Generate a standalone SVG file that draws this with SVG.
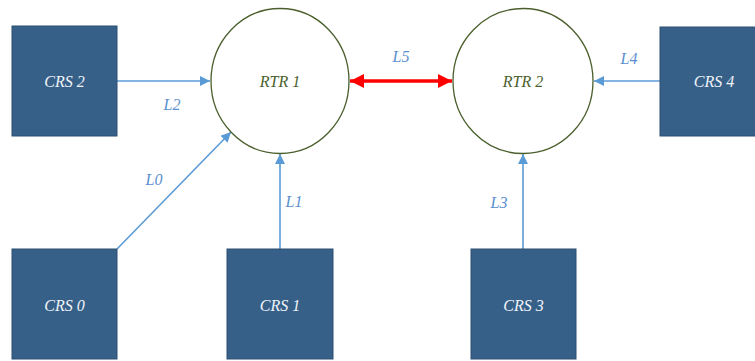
<svg xmlns="http://www.w3.org/2000/svg" width="755" height="361" viewBox="0 0 755 361">
<style>
text{font-family:'Liberation Serif','Times New Roman','DejaVu Serif',serif;font-style:italic;font-size:16px;text-anchor:middle}
.crs{fill:#376089;stroke:#2c4f72;stroke-width:1}
.crst{fill:#f0f4f8}
.rtr{fill:#fff;stroke:#4a5f2c;stroke-width:1.3}
.rtrt{fill:#4a5f2c}
.lnk{stroke:#5b9bd5;stroke-width:1.6;fill:none}
.lbl{fill:#5b8fcf}
</style>
<defs>
<marker id="ab" viewBox="0 0 10 10" refX="10" refY="5" markerWidth="10" markerHeight="10" markerUnits="userSpaceOnUse" orient="auto"><path d="M0,0L10,5L0,10z" fill="#5b9bd5"/></marker>
<marker id="ar" viewBox="0 0 10 10" refX="10" refY="5" markerWidth="16" markerHeight="14" markerUnits="userSpaceOnUse" orient="auto-start-reverse"><path d="M0,0L10,5L0,10z" fill="#ff0000"/></marker>
</defs>
<g id="connectors">
<line class="lnk" x1="117" y1="81" x2="210" y2="81" marker-end="url(#ab)"/>
<line class="lnk" x1="117" y1="249" x2="231" y2="132" marker-end="url(#ab)"/>
<line class="lnk" x1="280" y1="249" x2="280" y2="154" marker-end="url(#ab)"/>
<line class="lnk" x1="523" y1="249" x2="523" y2="154" marker-end="url(#ab)"/>
<line class="lnk" x1="660" y1="81" x2="594" y2="81" marker-end="url(#ab)"/>
<line x1="350" y1="81" x2="452" y2="81" stroke="#ff0000" stroke-width="3.5" marker-start="url(#ar)" marker-end="url(#ar)"/>
<text class="lbl" x="172" y="110">L2</text>
<text class="lbl" x="154" y="185">L0</text>
<text class="lbl" x="294" y="207">L1</text>
<text class="lbl" x="499" y="208">L3</text>
<text class="lbl" x="629" y="64">L4</text>
<text class="lbl" x="401" y="62">L5</text>
</g>
<g id="rtr1"><ellipse class="rtr" cx="280" cy="81" rx="69" ry="72.5"/><text class="rtrt" x="280" y="87">RTR 1</text></g>
<g id="rtr2"><ellipse class="rtr" cx="523" cy="81" rx="70" ry="72.5"/><text class="rtrt" x="523" y="87">RTR 2</text></g>
<g id="crs2"><rect class="crs" x="12" y="26" width="105" height="110"/><text class="crst" x="64.5" y="87">CRS 2</text></g>
<g id="crs4"><rect class="crs" x="660" y="27" width="105" height="109"/><text class="crst" x="714" y="87">CRS 4</text></g>
<g id="crs0"><rect class="crs" x="12" y="249" width="105" height="110"/><text class="crst" x="64.5" y="311">CRS 0</text></g>
<g id="crs1"><rect class="crs" x="227" y="249" width="106" height="110"/><text class="crst" x="280" y="311">CRS 1</text></g>
<g id="crs3"><rect class="crs" x="471" y="249" width="105" height="110"/><text class="crst" x="523.5" y="311">CRS 3</text></g>
</svg>
